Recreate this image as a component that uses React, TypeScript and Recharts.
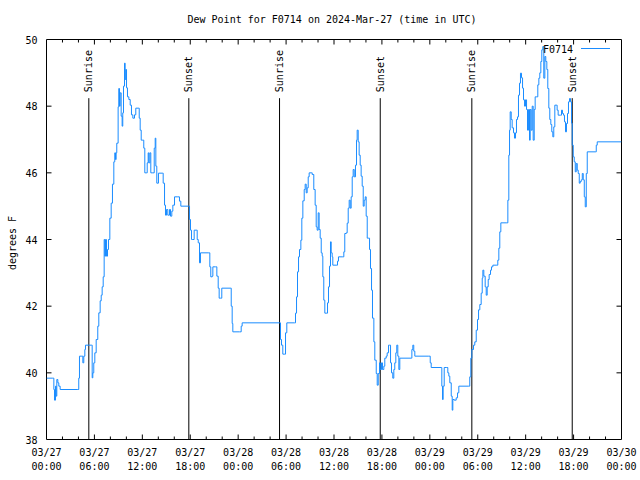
import { Line, LineChart, ReferenceArea, ReferenceLine, XAxis, YAxis } from "recharts";

// hours since 2024-03-27 00:00 UTC
const hours = [
  0, 0.79, 0.92, 1.0, 1.13, 1.21, 1.29, 1.42, 1.54, 1.71, 3.92, 4.04, 4.13, 4.42, 4.55, 4.67, 4.8, 4.88,
  5.67, 5.72, 5.8, 5.92, 6.05, 6.22, 6.42, 6.55, 6.72, 6.85, 6.97, 7.1, 7.22, 7.3, 7.39, 7.51, 7.64, 7.76,
  7.93, 8.1, 8.26, 8.43, 8.55, 8.64, 8.72, 8.8, 8.97, 9.05, 9.14, 9.22, 9.35, 9.47, 9.55, 9.64, 9.77, 9.85,
  9.93, 10.02, 10.14, 10.31, 10.48, 10.64, 10.81, 11.02, 11.18, 11.48, 11.61, 11.73, 11.86, 12.06, 12.18,
  12.31, 12.48, 12.61, 12.73, 12.81, 12.94, 13.06, 13.31, 13.49, 13.61, 13.69, 13.81, 14.02, 14.49, 14.61,
  14.78, 14.9, 15.03, 15.19, 15.4, 15.53, 15.69, 15.82, 16.03, 16.44, 16.65, 16.82, 17.78,
  17.82, 17.91, 18.03, 18.16, 18.32, 18.49, 18.74, 18.87, 19.0, 19.16, 19.28, 20.32, 20.45, 20.57, 20.75,
  20.83, 21.16, 21.33, 21.5, 21.62, 21.79, 21.95, 23.0, 23.13, 23.25, 23.33, 24.17, 24.38, 24.5, 29.18,
  29.3, 29.43, 29.59, 29.84, 29.93, 30.09, 31.05, 31.18, 31.31, 31.43, 31.56, 31.68, 31.85, 31.97, 32.1,
  32.27, 32.39, 32.52, 32.64, 32.77, 32.89, 33.14, 33.27, 33.47, 33.64, 33.77, 33.89, 34.02, 34.14, 34.27,
  34.4, 34.52, 34.6, 34.72, 34.85, 35.02, 35.19, 35.31, 35.44, 35.56, 35.65, 35.77, 35.85, 36.27, 36.44,
  36.56, 37.1, 37.23, 37.35, 37.53, 37.65, 37.78, 37.9, 38.03, 38.15, 38.28, 38.4, 38.53, 38.69, 38.82,
  38.9, 39.03, 39.15, 39.28, 39.4, 39.53, 39.66, 39.78, 39.91, 40.03, 40.16, 40.36, 40.45, 40.57, 40.7,
  40.82, 40.99, 41.11, 41.29, 41.41, 41.54, 41.7, 41.79, 41.95, 42.07, 42.24, 42.36, 42.54, 42.66, 42.83,
  42.95, 43.08, 43.2, 43.36, 43.49, 43.61, 43.74, 43.86, 43.99, 44.12, 44.24, 45.67, 45.75, 45.87, 45.99,
  46.12, 47.87, 48.05, 48.17, 49.42, 49.5, 49.59, 49.67, 49.8, 50.12, 50.25, 50.38, 50.5, 50.68, 50.8,
  50.88, 51.05, 51.3, 51.47, 51.63, 52.88, 53.0, 53.13, 53.26, 53.47, 53.63, 53.81, 53.97, 54.1, 54.26,
  54.43, 54.56, 54.64, 54.76, 54.93, 55.06, 55.18, 55.31, 55.43, 55.6, 55.72, 55.89, 56.39, 56.51, 56.64,
  56.76, 56.89, 57.64, 57.77, 57.89, 57.98, 58.06, 58.19, 58.31, 58.48, 58.6, 58.73, 58.85, 58.98, 59.1,
  59.23, 59.35, 59.48, 59.61, 59.73, 59.86, 59.98, 60.11, 60.23, 60.36, 60.48, 60.57, 60.69, 60.82, 60.94,
  61.07, 61.19, 61.39, 61.52, 61.65, 61.77, 61.9, 62.02, 62.15, 62.27, 62.4, 62.52, 62.65, 62.77, 62.9,
  63.02, 63.15, 63.27, 63.4, 63.52, 63.65, 63.82, 63.94, 64.07, 64.36, 64.49, 64.61, 64.74, 64.86, 64.99,
  65.11, 65.24, 65.36, 65.49, 65.61, 65.74, 65.83, 65.96, 66.08, 66.21, 66.33, 66.46, 66.58, 66.71, 66.83,
  66.96, 67.09, 67.21, 67.34, 67.46, 67.59, 67.71, 68.71, 68.84, 68.96, 72,
];

// dew point, degrees F
const dewPoint = [
  39.84, 39.84, 39.5, 39.18, 39.6, 39.3, 39.8, 39.7, 39.6, 39.5, 39.5, 39.84, 40.5, 40.5, 40.3, 40.5, 40.7, 40.83,
  40.83, 39.85, 40.0, 40.3, 40.6, 41.0, 41.4, 41.8, 42.16, 42.33, 42.58, 42.88, 44.0, 43.5, 44.0, 43.5, 43.7, 44.0,
  44.64, 45.09, 45.66, 46.33, 46.6, 46.4, 46.6, 46.89, 47.98, 48.53, 48.0, 48.4, 47.7, 47.4, 47.8, 48.6, 49.29, 48.8,
  49.1, 48.55, 48.28, 48.2, 48.03, 47.74, 47.64, 47.74, 47.94, 47.94, 47.64, 47.28, 46.98, 46.98, 46.74,
  46.0, 46.0, 46.3, 46.6, 46.3, 46.6, 46.0, 46.0, 46.74, 47.04, 46.2, 45.69, 45.99, 45.99, 45.69,
  45.03, 44.73, 44.9, 44.73, 44.9, 44.7, 44.85, 45.03, 45.28, 45.28, 45.15, 45.0, 45.0,
  45.0, 44.6, 44.28, 44.0, 44.0, 44.28, 44.28, 44.0, 43.9, 43.3, 43.6, 43.6, 43.18, 42.88, 42.9,
  43.18, 43.18, 42.9, 42.54, 42.24, 42.24, 42.54, 42.54, 42.0, 41.48, 41.23, 41.23, 41.4, 41.5, 41.5,
  41.0, 40.83, 40.56, 40.56, 41.2, 41.5, 41.5, 41.79, 42.28, 43.03, 43.48, 43.7, 43.98, 44.64, 45.16,
  45.5, 45.66, 45.4, 45.55, 45.88, 46.0, 46.0, 45.95, 45.5, 45.03, 44.38, 44.28, 44.8, 44.3, 44.04,
  43.6, 43.5, 42.88, 42.18, 41.79, 41.79, 42.1, 42.58, 43.2, 43.93, 43.6, 43.48, 43.23, 43.23, 43.35,
  43.48, 43.48, 43.63, 44.18, 44.2, 44.49, 44.94, 45.18, 44.94, 45.28, 45.88, 46.1, 45.88, 46.23, 46.98,
  47.28, 46.93, 46.53, 46.23, 45.9, 45.6, 45.0, 45.18, 45.28, 44.7, 44.04, 44.04, 43.7, 43.13, 42.48,
  41.64, 40.93, 40.38, 39.98, 39.63, 39.98, 40.3, 40.1, 40.3, 40.1, 40.2, 40.44, 40.5, 40.6, 40.83,
  40.83, 40.3, 40.0, 39.84, 40.1, 40.3, 40.6, 40.83, 40.5, 40.1, 40.44, 40.44, 40.7, 40.83, 40.65,
  40.5, 40.5, 40.3, 40.16, 40.16, 39.6, 39.2, 39.6, 40.16, 40.16, 40.0, 39.9, 39.7, 39.3, 38.88,
  39.2, 39.18, 39.25, 39.4, 39.6, 39.6, 39.88, 40.44, 40.7, 40.83, 40.93, 41.28, 41.6, 41.89, 42.05,
  42.39, 42.84, 43.08, 42.9, 42.58, 42.33, 42.58, 42.8, 42.95, 43.08, 43.18, 43.23, 43.23, 43.38, 43.74,
  44.23, 44.5, 44.5, 45.18, 46.53, 47.28, 47.83, 47.6, 47.35, 47.2, 47.04, 47.2, 47.6, 47.68, 48.33,
  48.69, 48.99, 48.85, 48.54, 48.19, 48.0, 48.19, 47.9, 47.28, 47.9, 46.98, 47.9, 47.28, 48.0, 46.98,
  47.9, 48.28, 48.28, 48.64, 48.84, 49.0, 49.34, 49.69, 49.79, 48.84, 49.49, 49.34, 49.1, 48.53, 47.94,
  47.6, 47.45, 47.23, 47.08, 47.38, 48.03, 48.03, 47.88, 47.73, 47.73, 47.88, 47.78, 47.73, 47.53, 47.23,
  47.48, 47.78, 48.13, 48.23, 48.13, 47.49, 46.83, 46.48, 46.33, 46.03, 46.28, 46.08, 45.98, 45.69, 45.74,
  45.79, 45.98, 45.79, 45.28, 44.98, 45.98, 46.63, 46.63, 46.83, 46.93, 46.93,
];

const xTicks = [0, 2, 4, 6, 8, 10, 12, 14, 16, 18, 20, 22, 24, 26, 28, 30, 32, 34, 36, 38, 40, 42, 44, 46, 48, 50, 52, 54, 56, 58, 60, 62, 64, 66, 68, 70, 72];
const xDates = ["03/27", "03/27", "03/27", "03/27", "03/28", "03/28", "03/28", "03/28", "03/29", "03/29", "03/29", "03/29", "03/30"];
const xTimes = ["00:00", "06:00", "12:00", "18:00"];
const yTicks = [38, 40, 42, 44, 46, 48, 50];

const sunHours = [5.3, 17.82, 29.18, 41.79, 53.26, 65.83];
const sunNames = ["Sunrise", "Sunset", "Sunrise", "Sunset", "Sunrise", "Sunset"];
const sunLineTop = 48.24;

const X_MIN = 0;
const X_MAX = 72;
const Y_MIN = 38;
const Y_MAX = 50;

const data = hours.map((h, i) => ({ h, dew: dewPoint[i] }));

const FONT = "'DejaVu Sans Mono', monospace";
const BLUE = "#1a8cff";
// tick lengths expressed in data units (plot is 575 x 400 px)
const TICK_X_UNITS = (X_MAX - X_MIN) / 575;
const TICK_Y_UNITS = (Y_MAX - Y_MIN) / 400;

function BottomTick(props: any) {
  const { x, y, payload } = props;
  const v = payload.value;
  const major = v % 6 === 0;
  const k = v / 6;
  return (
    <g>
      {major && (
        <text x={x} y={y} textAnchor="middle" fontFamily={FONT} fontSize={10} fill="#000">
          <tspan x={x} dy={16}>{xDates[k]}</tspan>
          <tspan x={x} dy={14}>{xTimes[k % 4]}</tspan>
        </text>
      )}
    </g>
  );
}

function LeftTick(props: any) {
  const { x, y, payload } = props;
  return (
    <text x={x - 9} y={y} dy={4} textAnchor="end" fontFamily={FONT} fontSize={10} fill="#000">
      {payload.value}
    </text>
  );
}

function SunLabel(props: any) {
  const { viewBox, text } = props;
  const x = viewBox.x;
  const y = viewBox.y - 6;
  return (
    <text
      x={x}
      y={y}
      transform={`rotate(-90 ${x} ${y})`}
      textAnchor="start"
      dominantBaseline="central"
      fontFamily={FONT}
      fontSize={10}
      fill="#000"
    >
      {text}
    </text>
  );
}

export default function App() {
  const innerX = xTicks.filter((t) => t > X_MIN && t < X_MAX);
  const innerY = yTicks.filter((t) => t > Y_MIN && t < Y_MAX);
  return (
    <div style={{ position: "absolute", left: 0, top: 0, width: 640, height: 480, background: "#fff" }}>
      <LineChart
        width={640}
        height={480}
        data={data}
        margin={{ top: 39.5, right: 18.5, bottom: 0, left: 0 }}
        style={{ position: "absolute", left: 0, top: 0 }}
      >
        <XAxis
          dataKey="h"
          type="number"
          domain={[X_MIN, X_MAX]}
          ticks={xTicks}
          interval={0}
          height={40.5}
          tickSize={0}
          tickMargin={0}
          tickLine={false}
          axisLine={false}
          tick={<BottomTick />}
          allowDataOverflow
        />
        <YAxis
          type="number"
          domain={[Y_MIN, Y_MAX]}
          ticks={yTicks}
          interval={0}
          width={46.5}
          tickSize={0}
          tickMargin={0}
          tickLine={false}
          axisLine={false}
          tick={<LeftTick />}
          allowDataOverflow
        />
        {/* plot frame */}
        <ReferenceArea
          x1={X_MIN}
          x2={X_MAX}
          y1={Y_MIN}
          y2={Y_MAX}
          fill="none"
          fillOpacity={0}
          stroke="#000"
          strokeWidth={1}
          strokeOpacity={1}
          ifOverflow="visible"
        />
        {/* inward ticks on all four sides */}
        {innerX.map((t) => (
          <ReferenceLine
            key={`tb${t}`}
            segment={[
              { x: t, y: Y_MIN },
              { x: t, y: Y_MIN + (t % 6 === 0 ? 5 : 3) * TICK_Y_UNITS },
            ]}
            stroke="#000"
            ifOverflow="visible"
          />
        ))}
        {innerX.map((t) => (
          <ReferenceLine
            key={`tt${t}`}
            segment={[
              { x: t, y: Y_MAX },
              { x: t, y: Y_MAX - (t % 6 === 0 ? 5 : 3) * TICK_Y_UNITS },
            ]}
            stroke="#000"
            ifOverflow="visible"
          />
        ))}
        {innerY.map((t) => (
          <ReferenceLine
            key={`tl${t}`}
            segment={[
              { x: X_MIN, y: t },
              { x: X_MIN + 5 * TICK_X_UNITS, y: t },
            ]}
            stroke="#000"
            ifOverflow="visible"
          />
        ))}
        {innerY.map((t) => (
          <ReferenceLine
            key={`tr${t}`}
            segment={[
              { x: X_MAX, y: t },
              { x: X_MAX - 5 * TICK_X_UNITS, y: t },
            ]}
            stroke="#000"
            ifOverflow="visible"
          />
        ))}
        {sunHours.map((sh, i) => (
          <ReferenceLine
            key={i}
            segment={[
              { x: sh, y: sunLineTop },
              { x: sh, y: Y_MIN },
            ]}
            stroke="#000"
            strokeWidth={1}
            label={<SunLabel text={sunNames[i]} />}
          />
        ))}
        <Line
          dataKey="dew"
          type="stepAfter"
          stroke={BLUE}
          strokeWidth={1}
          dot={false}
          isAnimationActive={false}
        />
      </LineChart>
      <svg width={640} height={480} style={{ position: "absolute", left: 0, top: 0, pointerEvents: "none" }}>
        <text x={332} y={23} textAnchor="middle" fontFamily={FONT} fontSize={10} fill="#000">
          Dew Point for F0714 on 2024-Mar-27 (time in UTC)
        </text>
        <text
          x={12}
          y={243}
          transform="rotate(-90 12 243)"
          textAnchor="middle"
          dominantBaseline="central"
          fontFamily={FONT}
          fontSize={10}
          fill="#000"
        >
          degrees F
        </text>
        <text x={543} y={53} fontFamily={FONT} fontSize={10} fill="#000">
          F0714
        </text>
        <line x1={581} y1={48.5} x2={610} y2={48.5} stroke={BLUE} strokeWidth={1} />
      </svg>
    </div>
  );
}
